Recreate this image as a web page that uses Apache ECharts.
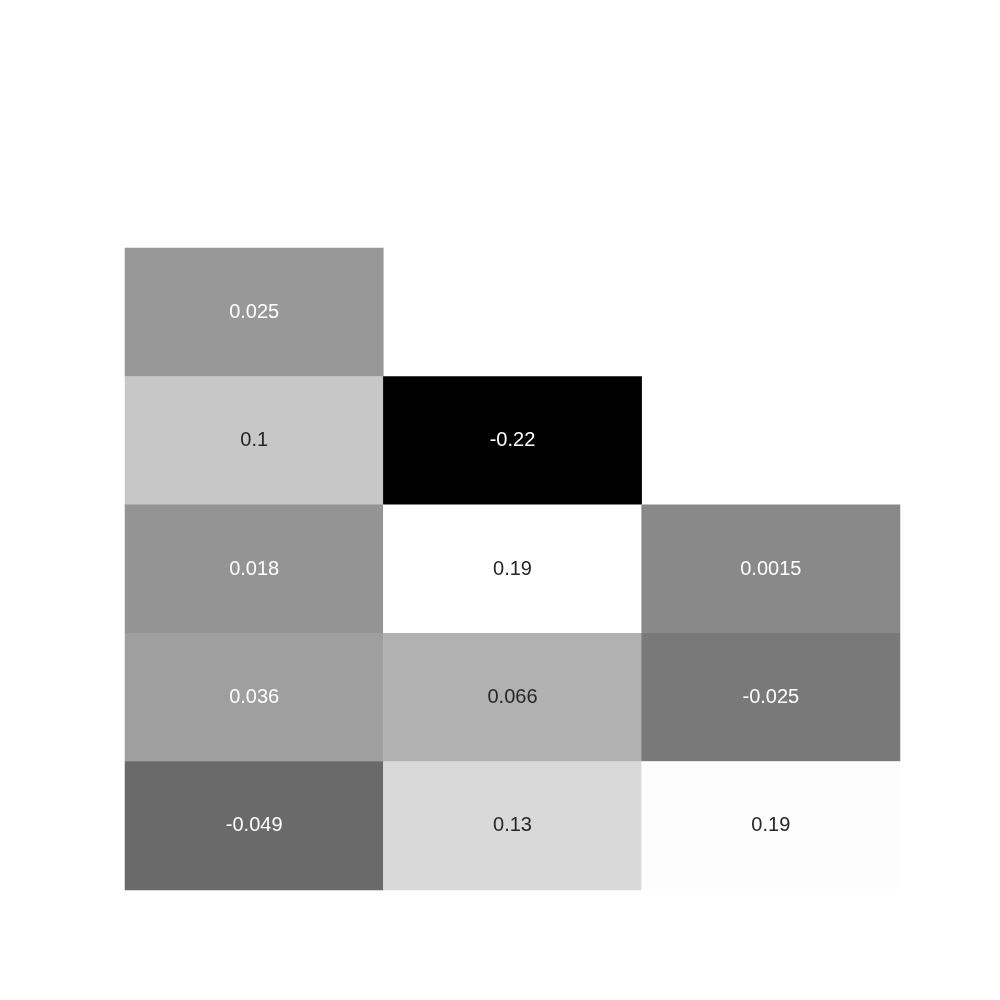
<!DOCTYPE html>
<html>
<head>
<meta charset="utf-8">
<script src="https://cdn.jsdelivr.net/npm/echarts@6/dist/echarts.min.js"></script>
<style>html,body{margin:0;padding:0;background:#fff;}#c{width:1000px;height:1000px;}</style>
</head>
<body>
<div id="c"></div>
<script>
const xCategories = ['0', '1', '2'];
const yCategories = ['0', '1', '2', '3', '4'];
const row0 = [0.025, null, null];
const row1 = [0.1, -0.22, null];
const row2 = [0.018, 0.191, 0.0015];
const row3 = [0.036, 0.066, -0.025];
const row4 = [-0.049, 0.13, 0.188];
const rows = [row0, row1, row2, row3, row4];
const vMin = -0.22, vMax = 0.191;

function fmt2g(v) { return String(Number(v.toPrecision(2))); }
function textColor(v) {
  const t = Math.max(0, Math.min(1, (v - vMin) / (vMax - vMin)));
  const c = t; // gray level 0..1
  const lin = c <= 0.03928 ? c / 12.92 : Math.pow((c + 0.055) / 1.055, 2.4);
  return lin > 0.408 ? '#262626' : '#ffffff';
}

const data = [];
rows.forEach((row, yi) => {
  row.forEach((v, xi) => {
    if (v === null) return;
    data.push({ value: [xi, yi, v], label: { color: textColor(v) } });
  });
});

const chart = echarts.init(document.getElementById('c'), null, { renderer: 'canvas' });
chart.setOption({
  backgroundColor: '#ffffff',
  animation: false,
  grid: { left: 125, top: 248, width: 775, height: 642 },
  xAxis: {
    type: 'category', data: xCategories,
    axisLine: { show: false }, axisTick: { show: false }, axisLabel: { show: false }, splitLine: { show: false }
  },
  yAxis: {
    type: 'category', data: yCategories, inverse: true,
    axisLine: { show: false }, axisTick: { show: false }, axisLabel: { show: false }, splitLine: { show: false }
  },
  visualMap: {
    show: false, type: 'continuous', min: vMin, max: vMax, dimension: 2,
    inRange: { color: ['#000000', '#ffffff'] }
  },
  series: [{
    type: 'heatmap',
    data: data,
    label: {
      show: true,
      fontFamily: 'Liberation Sans, Arial, sans-serif',
      fontSize: 20,
      formatter: p => fmt2g(p.value[2])
    },
    itemStyle: { borderWidth: 0 },
    emphasis: { disabled: true }
  }]
});
</script>
</body>
</html>
